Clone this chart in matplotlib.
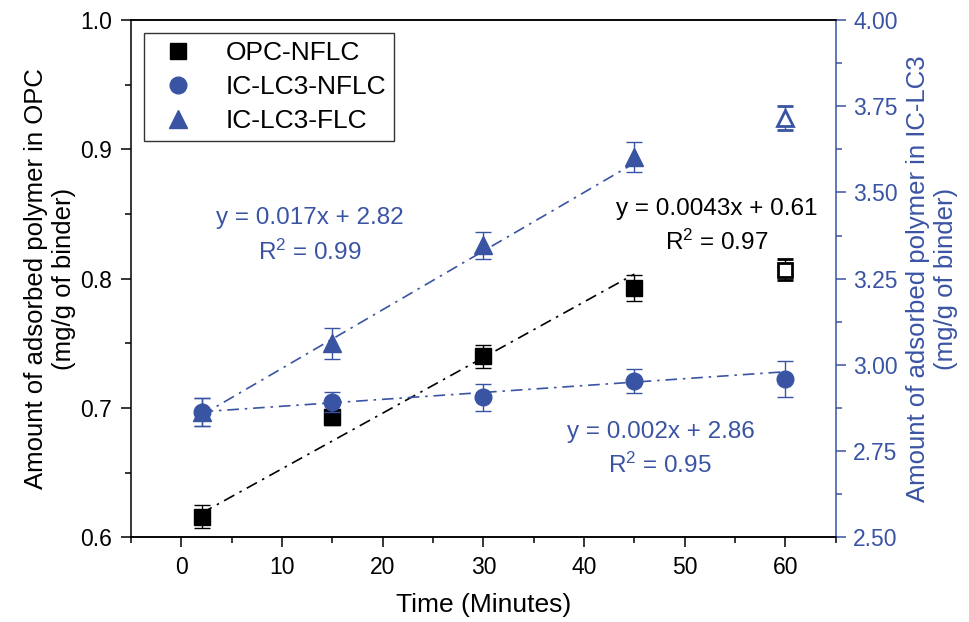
import matplotlib
matplotlib.use('Agg')
import matplotlib.pyplot as plt
import numpy as np
from matplotlib.ticker import MultipleLocator, FormatStrFormatter
from matplotlib.lines import Line2D

plt.rcParams['font.family'] = ['Liberation Sans', 'DejaVu Sans']
plt.rcParams['mathtext.fontset'] = 'custom'
plt.rcParams['mathtext.rm'] = 'Liberation Sans'
plt.rcParams['mathtext.default'] = 'regular'

# ---- data ----
time = [2, 15, 30, 45, 60]
opc_nflc = [0.616, 0.693, 0.740, 0.793, 0.807]
opc_nflc_err = [0.009, 0.006, 0.009, 0.010, 0.008]
lc3_nflc = [2.864, 2.893, 2.906, 2.954, 2.959]
lc3_nflc_err = [0.040, 0.029, 0.039, 0.035, 0.051]
lc3_flc = [2.864, 3.062, 3.347, 3.603, 3.715]
lc3_flc_err = [0.040, 0.044, 0.039, 0.044, 0.035]

# linear fits (slope, intercept) and x-range as printed
fit_opc = (0.0043, 0.61)
fit_nflc = (0.002, 2.86)
fit_flc = (0.017, 2.82)
fit_opc_x = [2, 45]
fit_nflc_x = [2, 60]
fit_flc_x = [2, 45]

labels = ['OPC-NFLC', 'IC-LC3-NFLC', 'IC-LC3-FLC']
x_ticks = [0, 10, 20, 30, 40, 50, 60]

BLUE = '#3A54A4'
BLACK = '#000000'

fig = plt.figure(figsize=(9.70, 6.22), dpi=100)
ax1 = fig.add_axes([0.1351, 0.1362, 0.8615 - 0.1351, 0.9678 - 0.1362])
ax2 = ax1.twinx()

dash = (0, (7, 3.5, 1.5, 3.5))
tick_fs = 16.5
lab_fs = 18.5
ann_fs = 17.5

# fit lines
def fitline(ax, fit, xr, color):
    xs = np.array(xr, dtype=float)
    ax.plot(xs, fit[0] * xs + fit[1], color=color, lw=1.2, linestyle=dash, zorder=2)

fitline(ax1, fit_opc, fit_opc_x, BLACK)
fitline(ax2, fit_nflc, fit_nflc_x, BLUE)
fitline(ax2, fit_flc, fit_flc_x, BLUE)

ekw = dict(elinewidth=1.0, capsize=6, capthick=1.0, linestyle='none')
# OPC-NFLC filled points
ax1.errorbar(time[:4], opc_nflc[:4], yerr=opc_nflc_err[:4], fmt='s', color=BLACK,
             ms=11, zorder=3, **ekw)
ax1.errorbar(time[4:], opc_nflc[4:], yerr=opc_nflc_err[4:], fmt='s', color=BLACK,
             mfc='white', mec=BLACK, mew=2.0, ms=10, zorder=3, **ekw)
# IC-LC3 series
ax2.errorbar(time, lc3_nflc, yerr=lc3_nflc_err, fmt='o', color=BLUE, ms=12, zorder=3, **ekw)
ax2.errorbar(time[:4], lc3_flc[:4], yerr=lc3_flc_err[:4], fmt='^', color=BLUE, ms=13.5,
             zorder=4, **ekw)
ax2.errorbar(time[4:], lc3_flc[4:], yerr=lc3_flc_err[4:], fmt='^', color=BLUE,
             mfc='white', mec=BLUE, mew=2.0, ms=12, zorder=4, **ekw)

# axes limits & ticks
ax1.set_xlim(-5, 65)
ax1.set_ylim(0.6, 1.0)
ax2.set_ylim(2.5, 4.0)
ax1.set_xticks(x_ticks)
ax1.xaxis.set_minor_locator(MultipleLocator(5))
ax1.yaxis.set_major_locator(MultipleLocator(0.1))
ax1.yaxis.set_minor_locator(MultipleLocator(0.05))
ax1.yaxis.set_major_formatter(FormatStrFormatter('%.1f'))
ax2.yaxis.set_major_locator(MultipleLocator(0.25))
ax2.yaxis.set_minor_locator(MultipleLocator(0.125))
ax2.yaxis.set_major_formatter(FormatStrFormatter('%.2f'))

for ax in (ax1, ax2):
    for s in ax.spines.values():
        s.set_linewidth(1.1)
ax1.tick_params(which='major', direction='out', length=7.5, width=1.1, labelsize=tick_fs,
                colors=BLACK, top=False, right=False, pad=6)
ax1.tick_params(which='minor', direction='out', length=4, width=1.1, top=False, right=False)
ax2.tick_params(axis='y', which='major', direction='out', length=7.5, width=1.1,
                labelsize=tick_fs, colors=BLUE, pad=5)
ax2.tick_params(axis='y', which='minor', direction='out', length=4, width=1.1, colors=BLUE)
ax2.spines['right'].set_color(BLUE)
ax1.spines['right'].set_visible(False)
ax2.spines['left'].set_visible(False)

ax1.set_xlabel('Time (Minutes)', fontsize=19, labelpad=10)
ax1.set_ylabel('Amount of adsorbed polymer in OPC\n(mg/g of binder)', fontsize=lab_fs,
               labelpad=3, linespacing=1.2)
ax2.set_ylabel('Amount of adsorbed polymer in IC-LC3\n(mg/g of binder)', fontsize=lab_fs,
               color=BLUE, rotation=90, labelpad=6, linespacing=1.2)

# annotations
ax1.text(12.8, 0.847, 'y = 0.017x + 2.82', color=BLUE, fontsize=ann_fs, ha='center', va='center')
ax1.text(12.8, 0.8205, 'R$^2$ = 0.99', color=BLUE, fontsize=ann_fs, ha='center', va='center')
ax1.text(53.15, 0.8535, 'y = 0.0043x + 0.61', color=BLACK, fontsize=ann_fs, ha='center', va='center')
ax1.text(53.2, 0.828, 'R$^2$ = 0.97', color=BLACK, fontsize=ann_fs, ha='center', va='center')
ax1.text(47.6, 0.6815, 'y = 0.002x + 2.86', color=BLUE, fontsize=ann_fs, ha='center', va='center')
ax1.text(47.5, 0.656, 'R$^2$ = 0.95', color=BLUE, fontsize=ann_fs, ha='center', va='center')

handles = [
    Line2D([], [], marker='s', color=BLACK, linestyle='none', ms=11),
    Line2D([], [], marker='o', color=BLUE, linestyle='none', ms=12),
    Line2D([], [], marker='^', color=BLUE, linestyle='none', ms=13.5),
]
leg = ax2.legend(handles, labels, loc='upper left', bbox_to_anchor=(0.018, 0.975),
                 borderaxespad=0, fontsize=19, frameon=True, fancybox=False,
                 edgecolor=BLACK, labelspacing=0.38, handletextpad=0.8,
                 borderpad=0.3, handlelength=2.0)
leg.get_frame().set_linewidth(1.0)
leg.set_zorder(10)

fig.savefig('out.png', dpi=100)
